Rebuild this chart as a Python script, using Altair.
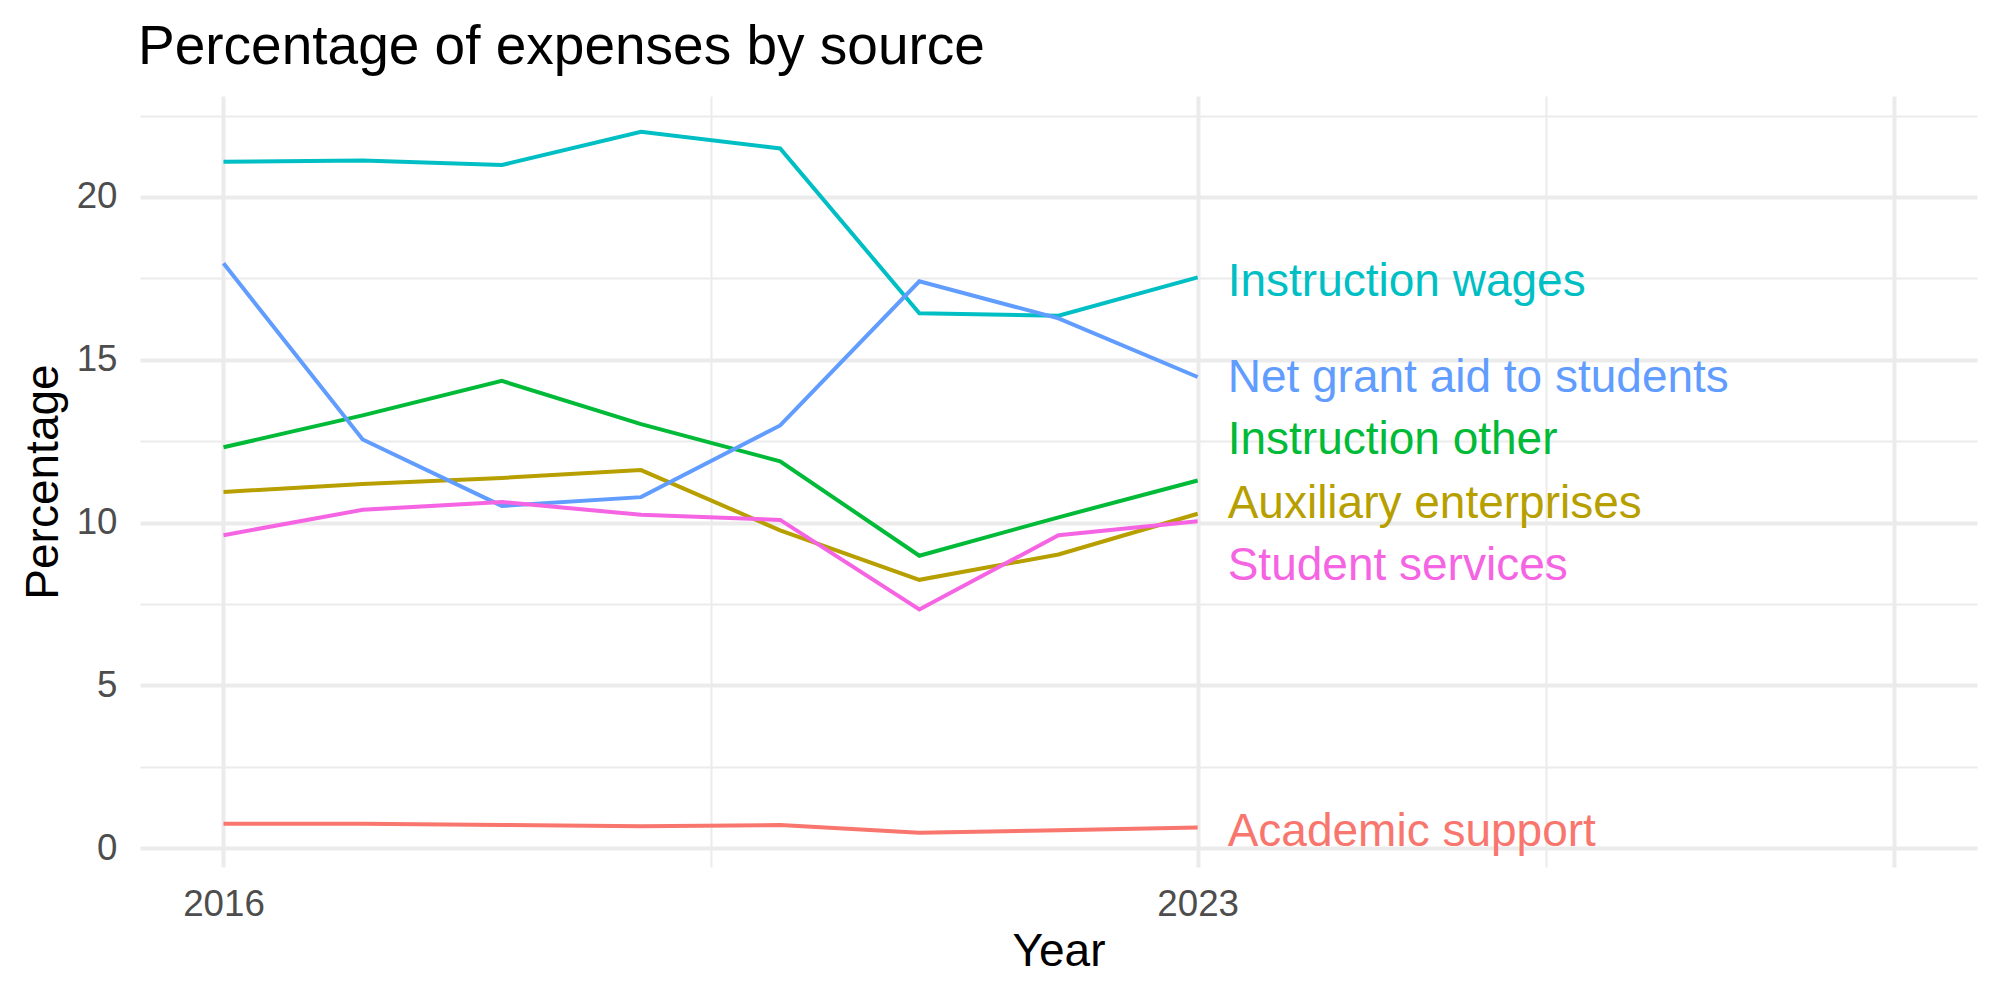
import altair as alt
import pandas as pd

# ---- data ----
years = [2016, 2017, 2018, 2019, 2020, 2021, 2022, 2023]
series_names = [
    "Academic support",
    "Auxiliary enterprises",
    "Instruction other",
    "Instruction wages",
    "Net grant aid to students",
    "Student services",
]
academic_support = [0.75, 0.75, 0.71, 0.67, 0.71, 0.47, 0.55, 0.63]
auxiliary_enterprises = [10.94, 11.18, 11.37, 11.61, 9.76, 8.24, 9.02, 10.27]
instruction_other = [12.31, 13.29, 14.35, 13.02, 11.88, 8.98, 10.16, 11.29]
instruction_wages = [21.08, 21.12, 20.98, 22.00, 21.49, 16.43, 16.35, 17.53]
net_grant_aid = [17.96, 12.55, 10.51, 10.78, 12.98, 17.41, 16.27, 14.47]
student_services = [9.61, 10.39, 10.63, 10.24, 10.08, 7.33, 9.61, 10.04]

# repelled label positions (y value of each end label)
label_y = [0.50, 10.57, 12.53, 17.39, 14.45, 8.65]
label_year = 2023

colors = ["#F8766D", "#B79F00", "#00BA38", "#00BFC4", "#619CFF", "#F564E3"]

x_ticks = [2016, 2019.5, 2023, 2025.5, 2028]
y_ticks = [0, 2.5, 5, 7.5, 10, 12.5, 15, 17.5, 20, 22.5]

all_values = [academic_support, auxiliary_enterprises, instruction_other,
              instruction_wages, net_grant_aid, student_services]

rows = []
for name, vals in zip(series_names, all_values):
    for yr, v in zip(years, vals):
        rows.append({"series": name, "year": yr, "value": v})
df = pd.DataFrame(rows)

labels_df = pd.DataFrame({
    "series": series_names,
    "year": [label_year] * len(series_names),
    "value": label_y,
})

FONT = "Liberation Sans"
GRID = "#EBEBEB"

x_enc = alt.X(
    "year:Q",
    scale=alt.Scale(domain=[2015.4, 2028.6], nice=False, zero=False),
    axis=alt.Axis(
        values=x_ticks,
        format="d",
        labelExpr="(datum.value == 2016 || datum.value == 2023) ? datum.label : ''",
        title="Year",
        grid=True,
        gridColor=GRID,
        gridWidth={"condition": {"test": "datum.value == 2019.5 || datum.value == 2025.5", "value": 2}, "value": 4},
        domain=False,
        ticks=False,
        tickSize=0,
        labelBaseline="alphabetic",
        labelPadding=48,
        labelFont=FONT,
        labelFontSize=36.7,
        labelColor="#4D4D4D",
        labelFlush=False,
        titleFont=FONT,
        titleFontSize=46,
        titleFontWeight="normal",
        titleColor="black",
        titleBaseline="alphabetic",
        titleY=98,
    ),
)

y_enc = alt.Y(
    "value:Q",
    scale=alt.Scale(domain=[-0.58, 23.1], nice=False, zero=False),
    axis=alt.Axis(
        values=y_ticks,
        labelExpr="(datum.value % 5 == 0) ? datum.label : ''",
        title="Percentage",
        grid=True,
        gridColor=GRID,
        gridWidth={"condition": {"test": "datum.value % 5 != 0", "value": 2}, "value": 4},
        domain=False,
        ticks=False,
        tickSize=0,
        labelPadding=23,
        labelFont=FONT,
        labelFontSize=36.7,
        labelColor="#4D4D4D",
        labelFlush=False,
        titleFont=FONT,
        titleFontSize=46,
        titleFontWeight="normal",
        titleColor="black",
        titleBaseline="alphabetic",
        titleX=-83,
    ),
)

color_enc = alt.Color(
    "series:N",
    scale=alt.Scale(domain=series_names, range=colors),
    legend=None,
)

lines = alt.Chart(df).mark_line(strokeWidth=4).encode(
    x=x_enc, y=y_enc, color=color_enc, detail="series:N"
)

labels = alt.Chart(labels_df).mark_text(
    align="left", baseline="middle", dx=30, fontSize=46, font=FONT
).encode(
    x=alt.X("year:Q"), y=alt.Y("value:Q"), text="series:N", color=color_enc
)

chart = alt.layer(lines, labels).properties(
    width=1837,
    height=771,
    padding={"left": 140, "top": 96, "right": 23, "bottom": 133},
    autosize=alt.AutoSizeParams(type="none"),
    background="white",
    title=alt.TitleParams(
        "Percentage of expenses by source",
        anchor="start",
        frame="group",
        font=FONT,
        fontSize=55,
        fontWeight="normal",
        color="black",
        baseline="alphabetic",
        offset=21,
        dx=-2,
        dy=44,
    ),
).configure_view(stroke=None)

chart.save("out.html", embed_options={"renderer": "svg", "actions": False})
